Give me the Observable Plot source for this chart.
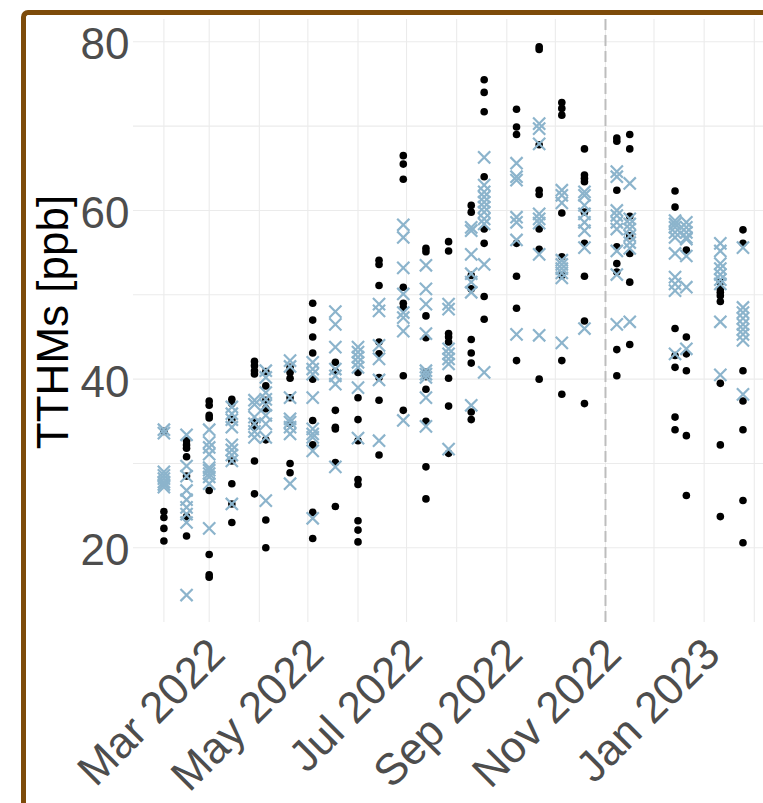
<!DOCTYPE html>
<html>
<head>
<meta charset="utf-8">
<script src="https://cdn.jsdelivr.net/npm/d3@7"></script>
<script src="https://cdn.jsdelivr.net/npm/@observablehq/plot@0.6"></script>
<style>
  html, body { margin: 0; padding: 0; background: #ffffff; }
  #wrap { position: relative; width: 763px; height: 803px; overflow: hidden; background: #ffffff; }
  #frame { position: absolute; left: 21px; top: 9.5px; width: 820px; height: 860px;
           border-left: 5px solid #7d4b0a; border-top: 5px solid #7d4b0a;
           border-top-left-radius: 7px; box-sizing: border-box; pointer-events: none; }
  svg { display: block; }
</style>
</head>
<body>
<div id="wrap"><div id="frame"></div></div>
<script>
// ---- data ----
const sampleDates = ["2022-02-01","2022-02-15","2022-03-01","2022-03-15","2022-03-29","2022-04-05","2022-04-20",
  "2022-05-04","2022-05-18","2022-06-01","2022-06-14","2022-06-29","2022-07-13","2022-07-27","2022-08-10",
  "2022-08-18","2022-09-07","2022-09-21","2022-10-05","2022-10-19","2022-11-08","2022-11-16","2022-12-14",
  "2022-12-21","2023-01-11","2023-01-25"];

// black dots
const seriesDots = [
  [33.8, 24.3, 23.6, 22.3, 20.8],
  [32.7, 32.2, 31.8, 30.8, 28.5, 23.7, 21.4],
  [37.4, 36.9, 35.7, 35.4, 26.8, 19.2, 16.8, 16.5],
  [37.6, 37.1, 35.2, 30.3, 27.6, 25.2, 23.0],
  [42.1, 41.6, 41.0, 40.6, 35.0, 34.3, 30.3, 26.4],
  [40.9, 39.2, 37.5, 36.5, 32.8, 23.3, 20.0],
  [41.4, 40.8, 40.1, 37.8, 34.7, 30.0, 28.9],
  [49.0, 47.0, 45.0, 43.1, 40.0, 35.1, 32.2, 24.2, 21.1],
  [42.0, 40.9, 36.3, 34.3, 34.1, 30.1, 24.9],
  [40.8, 37.8, 35.2, 32.7, 28.1, 27.5, 23.2, 22.1, 20.7],
  [54.1, 53.6, 51.1, 44.4, 43.0, 40.2, 37.5, 31.0],
  [66.5, 65.5, 63.7, 50.9, 49.0, 48.5, 40.4, 36.3],
  [55.5, 55.1, 47.5, 44.9, 40.8, 40.3, 38.8, 35.0, 29.6, 25.8],
  [56.3, 55.2, 45.4, 45.0, 44.4, 40.1, 36.8, 31.2],
  [60.6, 59.8, 52.3, 50.7, 44.7, 43.1, 41.9, 36.1, 35.2],
  [75.5, 74.0, 71.7, 64.0, 57.8, 56.1, 49.8, 47.1],
  [72.0, 69.9, 69.0, 56.1, 52.2, 48.4, 42.2],
  [79.4, 79.1, 67.8, 62.4, 61.9, 57.8, 55.4, 40.0],
  [72.8, 72.1, 71.3, 59.7, 54.5, 52.3, 42.2, 38.2],
  [67.3, 64.2, 63.8, 63.4, 59.8, 56.1, 52.2, 46.9, 37.1],
  [68.6, 68.2, 62.4, 55.7, 53.7, 52.7, 43.5, 40.4],
  [69.0, 67.3, 59.3, 57.0, 54.9, 51.5, 44.1],
  [62.3, 60.4, 46.0, 42.8, 41.4, 35.5, 34.0],
  [55.3, 45.0, 43.0, 41.0, 33.3, 26.2],
  [51.5, 50.7, 50.3, 49.9, 49.2, 39.5, 32.2, 23.7],
  [57.7, 56.1, 41.0, 37.4, 34.0, 25.6, 20.6]
];

// light blue crosses
const seriesCrosses = [
  [34.0, 33.6, 29.0, 28.6, 28.2, 27.8, 27.5, 27.2],
  [33.4, 29.7, 28.5, 26.8, 25.7, 24.8, 24.0, 23.0, 14.4],
  [34.0, 32.5, 31.9, 31.1, 29.5, 29.2, 28.8, 28.4, 27.6, 22.3],
  [36.7, 35.9, 35.2, 34.3, 32.2, 31.6, 31.0, 30.3, 25.2],
  [37.5, 37.0, 35.5, 34.7, 33.8, 33.1],
  [41.0, 40.2, 38.4, 37.6, 36.9, 35.7, 34.7, 33.1, 25.6],
  [42.2, 41.5, 37.8, 35.3, 34.9, 34.3, 33.5, 27.6],
  [42.0, 41.2, 40.6, 37.8, 34.1, 33.5, 33.1, 31.5, 23.5],
  [48.0, 46.5, 43.8, 41.2, 40.4, 39.4, 29.6],
  [43.8, 43.2, 42.6, 42.0, 41.4, 39.0, 33.0],
  [48.9, 48.1, 44.0, 42.4, 39.9, 32.7],
  [58.3, 56.8, 53.2, 50.1, 47.9, 47.3, 45.7, 35.1],
  [53.5, 50.7, 48.9, 45.4, 41.0, 40.6, 40.2, 37.8, 34.4],
  [48.9, 48.3, 43.6, 43.0, 42.4, 41.8, 31.7],
  [58.0, 57.6, 54.8, 52.5, 51.5, 50.3, 36.9],
  [66.3, 63.0, 62.2, 61.6, 61.0, 60.4, 59.8, 59.0, 58.4, 53.6, 40.8],
  [65.6, 64.0, 63.6, 59.2, 58.6, 56.5, 45.3],
  [70.3, 69.7, 67.9, 59.6, 59.0, 58.5, 54.8, 45.2],
  [62.4, 61.8, 60.9, 54.1, 53.6, 53.1, 52.6, 52.0, 44.3],
  [62.2, 61.8, 60.6, 59.6, 58.6, 57.6, 55.6, 46.0],
  [64.6, 64.0, 60.0, 59.4, 58.6, 57.8, 55.2, 52.4, 46.5],
  [63.2, 59.0, 58.4, 57.8, 57.0, 56.2, 55.5, 46.8],
  [58.8, 58.4, 58.0, 57.4, 56.8, 54.9, 52.1, 51.3, 50.5, 43.0],
  [58.6, 58.0, 57.4, 56.8, 56.6, 54.6, 50.9, 43.6],
  [56.1, 55.2, 53.7, 53.1, 52.4, 51.8, 51.3, 46.8, 40.5],
  [55.6, 48.5, 47.9, 47.2, 46.5, 45.9, 45.3, 44.6, 38.2]
];

const yTickValues = [20, 40, 60, 80];
const yGridValues = [20, 30, 40, 50, 60, 70, 80];
const xTickLabels = ["2022-03-01","2022-05-01","2022-07-01","2022-09-01","2022-11-01","2023-01-01"];
const xGridMonths = ["2022-02-01","2022-03-01","2022-04-01","2022-05-01","2022-06-01","2022-07-01","2022-08-01",
  "2022-09-01","2022-10-01","2022-11-01","2022-12-01","2023-01-01","2023-02-01"];
const cutoffDate = ["2022-11-01"];
const yTitle = "TTHMs [ppb]";

// ---- build tables ----
const parse = d3.utcParse("%Y-%m-%d");
const fmt = d3.utcFormat("%b %Y");
const dotRows = sampleDates.flatMap((d, i) => seriesDots[i].map(v => ({date: parse(d), value: v})));
const crossRows = sampleDates.flatMap((d, i) => seriesCrosses[i].map(v => ({date: parse(d), value: v})));

const FONT = "'Liberation Sans', Arial, Helvetica, sans-serif";

const chart = Plot.plot({
  width: 763,
  height: 803,
  marginLeft: 133,
  marginRight: 0,
  marginTop: 19,
  marginBottom: 181,
  style: {fontFamily: FONT, background: "#ffffff", overflow: "visible"},
  x: {type: "utc", domain: [parse("2022-02-01"), parse("2023-02-01")], range: [163.4, 753.8], axis: null},
  y: {domain: [20, 80], range: [547.3, 41.3], axis: null},
  marks: [
    Plot.ruleX(xGridMonths.map(parse), {x: d => d, stroke: "#ebebeb", strokeWidth: 1.1}),
    Plot.ruleY(yGridValues, {y: d => d, stroke: "#ebebeb", strokeWidth: 1.1}),
    Plot.ruleX(cutoffDate.map(parse), {x: d => d, stroke: "#bdbdbd", strokeWidth: 2, strokeDasharray: "11,5"}),
    Plot.dot(dotRows, {x: "date", y: "value", r: 3.8, fill: "#000000", stroke: "none"}),
    Plot.dot(crossRows, {x: "date", y: "value", symbol: "times", r: 5.6, stroke: "#8cb4cc", strokeWidth: 2.2}),
    Plot.text(yTickValues, {y: d => d, text: d => String(d), frameAnchor: "left", textAnchor: "end",
      dx: -4, dy: 3.5, fontSize: 44, fill: "#4d4d4d"}),
    Plot.text(xTickLabels.map(parse), {x: d => d, text: d => fmt(d), frameAnchor: "bottom", textAnchor: "end",
      lineAnchor: "top", rotate: -45, dx: -4, dy: 12, fontSize: 44, fill: "#4d4d4d"}),
    Plot.text([yTitle], {text: d => d, frameAnchor: "left", rotate: -90, textAnchor: "middle",
      dx: -80, dy: 1, fontSize: 44, fill: "#000000"})
  ]
});
document.getElementById("wrap").prepend(chart);
</script>
</body>
</html>
